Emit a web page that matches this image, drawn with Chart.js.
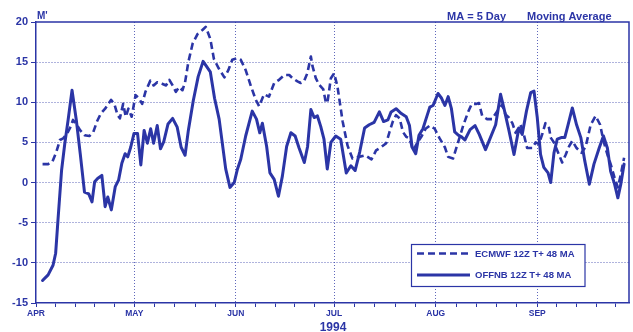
<!DOCTYPE html>
<html>
<head>
<meta charset="utf-8">
<script src="https://cdn.jsdelivr.net/npm/chart.js@4"></script>
<style>
  html, body { margin: 0; padding: 0; background: #ffffff; }
  #wrap { width: 633px; height: 332px; position: relative; }
</style>
</head>
<body>
<div id="wrap"><canvas id="chart"></canvas></div>
<script>
// Month labels and the day index (from Apr 1) where each month starts
const monthLabels = ['APR', 'MAY', 'JUN', 'JUL', 'AUG', 'SEP'];
const monthStartDays = [0, 30, 61, 91, 122, 153, 183];
const yTickValues = [-15, -10, -5, 0, 5, 10, 15, 20];

// OFFNB 12Z T+ 48 MA (solid line)
const offnbDays = [
  2, 3.7, 5.2, 6, 6.7, 7.8, 8.8, 9.8, 11, 12.3,
  13.5, 14.8, 16.1, 17.1, 17.9, 18.8, 20.1, 21.1, 21.9, 23,
  24.2, 25.2, 26.2, 27.2, 28, 28.9, 29.9, 31, 32, 33,
  34, 35, 35.9, 37, 38, 39, 40.3, 41.7, 43.1, 44.3,
  45.5, 46.5, 48, 49.5, 51, 53.2, 54.5, 55.9, 57.9, 59.2,
  60.5, 61.5, 62.5, 64, 66, 67.3, 68.3, 69.1, 70.4, 71.4,
  72.7, 74, 75.2, 76.5, 77.8, 79.1, 80.3, 81.9, 82.9, 83.9,
  84.9, 85.9, 86.9, 87.9, 88.9, 90, 91.5, 93, 94.7, 96.1,
  97.4, 98.8, 100.3, 101.7, 103.2, 104.8, 106.1, 107.4, 108.4, 109.9,
  111.5, 113, 114, 114.8, 115.9, 116.9, 118.1, 119.1, 120.2, 121.2,
  122.7, 123.8, 124.8, 125.8, 126.8, 127.8, 128.9, 129.9, 130.9, 132.5,
  134, 135.3, 137.2, 138.7, 140.3, 141.8, 142.8, 144.3, 145.9, 147.4,
  148.4, 149.7, 151, 152, 153, 154, 155, 156.3, 157.1, 158.1,
  159.1, 160.3, 161.4, 162.4, 163.7, 165, 166.3, 167.5, 168.9, 170.3,
  171.9, 173.2, 174.4, 175.4, 176.6, 177.6, 178.5, 179.5
];
const offnbValues = [
  -12.2, -11.5, -10.3, -8.8, -4.7, 1.5, 4.9, 7.8, 11.5, 7.8,
  3.6, -1.2, -1.4, -2.4, 0.1, 0.5, 0.9, -3, -1.8, -3.4,
  -0.5, 0.3, 2.4, 3.6, 3.2, 4.4, 6.1, 6.1, 2.2, 6.5,
  4.9, 6.7, 4.9, 7.1, 4.2, 5.1, 7.3, 8, 6.9, 4.4,
  3.4, 6.5, 10.2, 13.2, 15.1, 13.8, 10.5, 7.9, 1.7, -0.6,
  0, 1.7, 2.9, 5.8, 8.9, 7.9, 6.2, 7.4, 4.5, 1.2,
  0.4, -1.7, 0.8, 4.5, 6.2, 5.8, 4.3, 2.5, 4.5, 9.1,
  8.1, 8.3, 7, 5.4, 1.7, 5, 5.8, 5.4, 1.2, 2.1,
  1.5, 3.8, 6.8, 7.2, 7.5, 8.8, 7.6, 7.8, 8.8, 9.2,
  8.6, 8.2, 7.1, 4.4, 3.6, 5.9, 6.7, 8, 9.4, 9.6,
  11.1, 10.5, 9.6, 10.7, 9.2, 6.3, 5.9, 5.7, 5.3, 6.6,
  7.1, 6, 4.1, 5.6, 7.2, 11, 9.3, 6.6, 3.5, 6.8,
  6, 8.9, 11.2, 11.4, 8.1, 3.5, 1.9, 1.2, 0, 3.7,
  5.4, 5.6, 5.6, 7.2, 9.3, 7.2, 5.6, 2.7, -0.2, 2.3,
  4.3, 5.8, 4.3, 1.4, -0.2, -1.9, -0.2, 2.3
];

// ECMWF 12Z T+ 48 MA (dashed line)
const ecmwfDays = [
  2, 3.7, 5, 6.2, 7.3, 8.3, 9.5, 10.5, 11.3, 12.3,
  13.5, 14.8, 16.3, 17.5, 18.6, 19.8, 21.1, 22.9, 23.9, 24.9,
  25.6, 26.6, 27.4, 28.2, 29.2, 30.4, 31.4, 32.4, 33.4, 34.9,
  35.9, 37, 38.5, 39.7, 40.7, 41.7, 42.7, 43.7, 44.7, 45.5,
  46.5, 47.8, 49.3, 50.8, 51.8, 53.2, 54.3, 55.8, 57.5, 58.7,
  59.9, 61.5, 62.5, 64, 65.6, 67.1, 68.1, 69.6, 71.1, 72.7,
  74.2, 75.8, 77.3, 78.3, 79.8, 80.8, 81.8, 82.8, 83.9, 84.4,
  85.4, 86.4, 87.7, 88.5, 89, 90, 91, 92, 93.6, 95.1,
  96.6, 98.5, 100.5, 102.4, 103.8, 105.3, 106.9, 107.9, 108.9, 109.9,
  111, 112, 113, 114, 115.1, 116.3, 117.6, 118.9, 120.2, 121.7,
  123.2, 124.8, 125.8, 127.3, 128.9, 130.4, 131.9, 133, 134.3, 135.2,
  136.2, 137.7, 139.2, 140.8, 142.3, 143.3, 144.3, 145.4, 146.4, 147.9,
  148.9, 149.9, 151.5, 152.5, 153.5, 154.5, 155.5, 156.6, 157.1, 158.1,
  159.6, 160.6, 161.7, 162.7, 163.7, 165, 166.5, 167.8, 169.3, 170.8,
  172.2, 173.2, 174.4, 175.4, 176.6, 177.6, 178.5, 179.5
];
const ecmwfValues = [
  2.3, 2.3, 2.6, 3.8, 5.3, 5.5, 6.1, 6.9, 7.8, 7.3,
  6.5, 5.9, 5.8, 6.3, 7.6, 8.6, 9.2, 10.3, 9.8, 8.4,
  8, 9.8, 8.2, 9.2, 8.2, 10.9, 10.5, 9.8, 11.3, 12.7,
  12.1, 12.5, 12.3, 12.1, 12.8, 12.1, 11.3, 11.9, 11.5, 12.5,
  15, 17.3, 18.5, 19, 19.4, 17.9, 15.4, 14.2, 13.1, 14,
  15.3, 15.5, 15.3, 14, 12, 10.3, 9.5, 11, 10.7, 12.4,
  12.8, 13.4, 13.4, 13, 12.6, 12.4, 12.6, 13.6, 15.7, 14.5,
  13, 12.2, 11.6, 9.9, 10.1, 13, 13.6, 12, 7.6, 4.6,
  3, 3.2, 3.4, 2.9, 4, 4.4, 4.9, 6.3, 7.6, 8.4,
  8, 6.3, 5.7, 5.5, 4, 4.9, 5.7, 6.7, 7.1, 6.7,
  5.5, 4.4, 3.2, 3, 5.1, 7.1, 8.8, 9.8, 9.8, 9.9,
  8.3, 7.9, 7.9, 8.9, 9.7, 8.5, 8.1, 7.4, 6.2, 7.2,
  6, 4.3, 4.3, 5, 4.8, 6, 7.4, 6.8, 5.6, 5,
  3.5, 2.5, 3.5, 4.5, 5.2, 4.3, 3.7, 4.5, 7.2, 8.3,
  7.2, 5.2, 3.5, 2.3, 0.6, -0.6, 1, 3.1
];

const ink = '#2b35a6';
const gridInk = 'rgba(55, 65, 170, 0.8)';
const fontFamily = '"Liberation Sans", Arial, sans-serif';

function toPoints(days, values) {
  return days.map((d, i) => ({ x: d, y: values[i] }));
}

// each month split in 5 for the small ticks on the time axis
const xTickValues = [];
for (let m = 0; m < monthStartDays.length - 1; m++) {
  const a = monthStartDays[m], b = monthStartDays[m + 1];
  for (let k = 0; k < 5; k++) xTickValues.push(a + (b - a) * k / 5);
}

const framePlugin = {
  id: 'frame',
  afterDraw(chart) {
    const { ctx, chartArea: ca } = chart;
    ctx.save();
    ctx.strokeStyle = ink;
    ctx.lineWidth = 1.5;
    ctx.beginPath();
    ctx.moveTo(ca.left, ca.top);
    ctx.lineTo(ca.right, ca.top);
    ctx.lineTo(ca.right, ca.bottom);
    ctx.stroke();

    ctx.fillStyle = ink;
    ctx.textBaseline = 'alphabetic';
    ctx.textAlign = 'left';
    ctx.font = 'bold 10px ' + fontFamily;
    ctx.fillText("M'", 37, 18.5);

    ctx.font = 'bold 11px ' + fontFamily;
    ctx.fillText('MA = 5 Day', 447, 20);
    ctx.fillText('Moving Average', 527, 20);

    ctx.font = 'bold 12px ' + fontFamily;
    ctx.textAlign = 'center';
    ctx.fillText('1994', 333, 331);

    // legend box
    const bx = 411.5, by = 244.5, bw = 173.5, bh = 42;
    ctx.fillStyle = '#ffffff';
    ctx.fillRect(bx, by, bw, bh);
    ctx.lineWidth = 1.2;
    ctx.strokeRect(bx, by, bw, bh);

    const ds = chart.data.datasets;
    const rows = [253.5, 275];
    ds.forEach((d, i) => {
      ctx.save();
      ctx.lineWidth = d.borderWidth;
      ctx.setLineDash(d.borderDash || []);
      ctx.beginPath();
      ctx.moveTo(417, rows[i]);
      ctx.lineTo(470, rows[i]);
      ctx.stroke();
      ctx.restore();
      ctx.fillStyle = ink;
      ctx.textAlign = 'left';
      ctx.textBaseline = 'middle';
      ctx.font = 'bold 9.5px ' + fontFamily;
      ctx.fillText(d.label, 475, rows[i] + 0.5);
    });
    ctx.restore();
  }
};

const ctx = document.getElementById('chart').getContext('2d');
new Chart(ctx, {
  type: 'line',
  data: {
    datasets: [
      {
        label: 'ECMWF 12Z T+ 48 MA',
        data: toPoints(ecmwfDays, ecmwfValues),
        borderColor: ink,
        borderWidth: 2.6,
        borderDash: [7, 4],
        borderJoinStyle: 'round',
        pointRadius: 0,
        tension: 0,
        fill: false
      },
      {
        label: 'OFFNB 12Z T+ 48 MA',
        data: toPoints(offnbDays, offnbValues),
        borderColor: ink,
        borderWidth: 3,
        borderJoinStyle: 'round',
        borderCapStyle: 'round',
        pointRadius: 0,
        tension: 0,
        fill: false
      }
    ]
  },
  options: {
    responsive: true,
    maintainAspectRatio: false,
    animation: false,
    layout: { padding: { top: 22, right: 4, left: 0, bottom: 0 } },
    plugins: {
      legend: { display: false },
      tooltip: { enabled: false }
    },
    scales: {
      x: {
        type: 'linear',
        min: 0,
        max: 181,
        afterBuildTicks: (scale) => {
          scale.ticks = xTickValues.map(v => ({ value: v }));
        },
        afterFit: (scale) => { scale.height = 29; },
        ticks: {
          autoSkip: false,
          maxRotation: 0,
          padding: 2,
          color: ink,
          font: { family: fontFamily, size: 8.5, weight: 'bold' },
          callback: (value) => {
            const idx = monthStartDays.indexOf(value);
            return idx >= 0 && idx < monthLabels.length ? monthLabels[idx] : '';
          }
        },
        grid: {
          color: (c) => {
            const v = c.tick && c.tick.value;
            return (monthStartDays.includes(v) && v !== 0) ? gridInk : 'rgba(0,0,0,0)';
          },
          lineWidth: 1,
          tickColor: ink,
          tickLength: 4,
          tickWidth: 1
        },
        border: { display: true, color: ink, width: 1.5, dash: [1, 2] }
      },
      y: {
        min: -15,
        max: 20,
        afterBuildTicks: (scale) => {
          scale.ticks = yTickValues.map(v => ({ value: v }));
        },
        afterFit: (scale) => { scale.width = 36; },
        ticks: {
          padding: 3,
          color: ink,
          font: { family: fontFamily, size: 11, weight: 'bold' }
        },
        grid: {
          color: (c) => {
            const v = c.tick && c.tick.value;
            return (v === -15 || v === 20) ? 'rgba(0,0,0,0)' : gridInk;
          },
          lineWidth: 1,
          tickColor: ink,
          tickLength: 5,
          tickWidth: 1
        },
        border: { display: true, color: ink, width: 1.5, dash: [1, 2] }
      }
    }
  },
  plugins: [framePlugin]
});
</script>
</body>
</html>
